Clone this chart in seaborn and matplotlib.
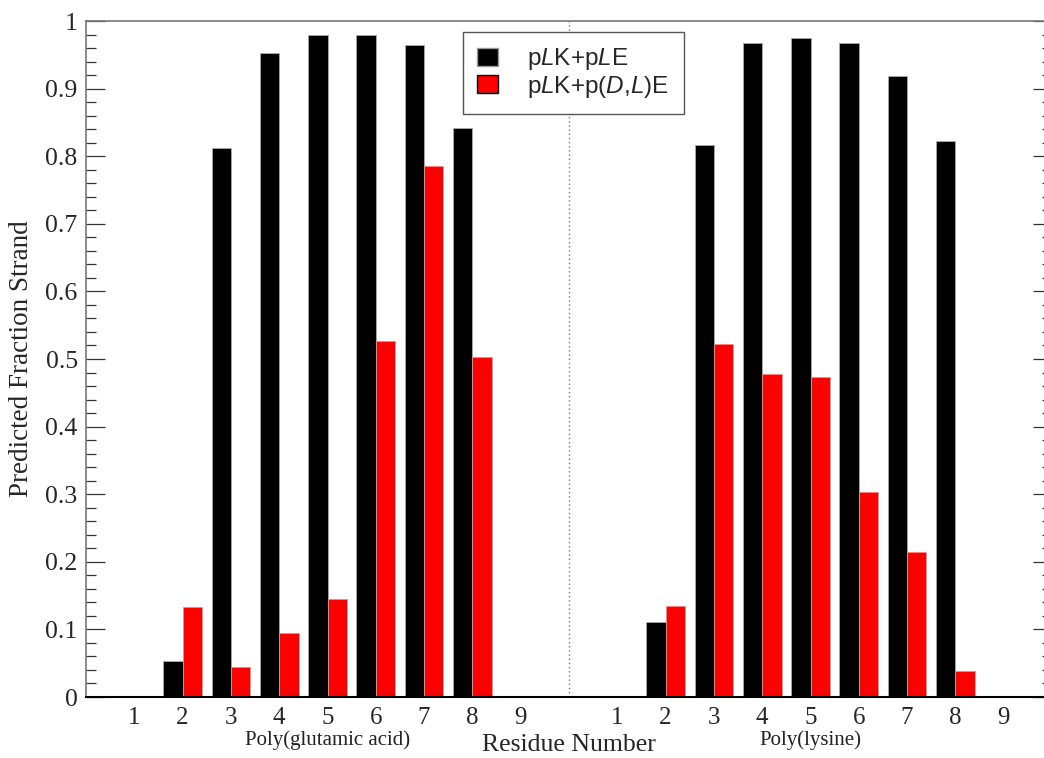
import numpy as np
import pandas as pd
import matplotlib
matplotlib.use("Agg")
import matplotlib.pyplot as plt
from matplotlib.ticker import MultipleLocator
import seaborn as sns

# residue numbers along each peptide
residues = [1, 2, 3, 4, 5, 6, 7, 8, 9]

# predicted fraction strand, poly(glutamic acid) part
glu_plk_ple = [0.0, 0.053, 0.812, 0.952, 0.980, 0.980, 0.964, 0.842, 0.0]
glu_plk_pdle = [0.0, 0.133, 0.044, 0.095, 0.145, 0.527, 0.786, 0.503, 0.0]

# predicted fraction strand, poly(lysine) part
lys_plk_ple = [0.0, 0.111, 0.816, 0.968, 0.975, 0.968, 0.919, 0.823, 0.0]
lys_plk_pdle = [0.0, 0.135, 0.522, 0.478, 0.473, 0.303, 0.214, 0.039, 0.0]

series_names = [r"p$\mathit{L}$K+p$\mathit{L}$E",
                r"p$\mathit{L}$K+p($\mathit{D}$,$\mathit{L}$)E"]
series_colors = ["#000000", "#ff0000"]
segment_names = ["Poly(glutamic acid)", "Poly(lysine)"]


def main():
    sns.set_style("white")
    plt.rcParams["font.family"] = ["Liberation Serif", "DejaVu Serif"]
    plt.rcParams["mathtext.fontset"] = "custom"
    plt.rcParams["mathtext.it"] = "Liberation Sans:italic"
    plt.rcParams["mathtext.rm"] = "Liberation Sans"

    # long table: glutamic residues at 1..9, lysine residues at 11..19
    rows = []
    for offset, (a, b) in zip([0, 10], [(glu_plk_ple, glu_plk_pdle),
                                       (lys_plk_ple, lys_plk_pdle)]):
        for i, r in enumerate(residues):
            rows.append({"pos": r + offset, "series": series_names[0], "value": a[i]})
            rows.append({"pos": r + offset, "series": series_names[1], "value": b[i]})
    df = pd.DataFrame(rows)

    fig = plt.figure(figsize=(10.44, 7.58), dpi=100)
    ax = fig.add_axes([86 / 1044, 61 / 758, 966 / 1044, 676 / 758])

    sns.barplot(data=df, x="pos", y="value", hue="series",
                hue_order=series_names, palette=series_colors, saturation=1,
                native_scale=True, dodge=True, width=0.8, errorbar=None,
                edgecolor="#aaaaaa", linewidth=0.6, ax=ax)

    ax.set_xlim(0, 20)
    ax.set_ylim(0, 1)

    # divider between the two peptides
    ax.axvline(10, color="#777777", linestyle=(0, (1, 2)), linewidth=1)

    ticks = [r for r in residues] + [r + 10 for r in residues]
    ax.set_xticks(ticks)
    ax.set_xticklabels([str(r) for r in residues] * 2)
    yt = np.round(np.arange(0, 1.01, 0.1), 1)
    ax.set_yticks(yt)
    ax.set_yticklabels(["0"] + [f"{v:.1f}" for v in yt[1:-1]] + ["1"])
    ax.yaxis.set_minor_locator(MultipleLocator(0.02))

    ax.tick_params(axis="x", length=0, labelsize=18, pad=7.5)
    ax.tick_params(axis="y", which="major", direction="in", length=13.5,
                   width=0.9, color="#333333", labelsize=18.5, pad=6,
                   left=True, right=True)
    ax.tick_params(axis="y", which="minor", direction="in", length=7,
                   width=0.9, color="#333333", left=True, right=True)

    for side in ["left", "top", "right"]:
        ax.spines[side].set_color("#777777")
        ax.spines[side].set_linewidth(1.2)
    ax.spines["bottom"].set_color("#000000")
    ax.spines["bottom"].set_linewidth(1.5)

    ax.set_xlabel("Residue Number", fontsize=18.5, va="baseline")
    ax.xaxis.set_label_coords(0.5, -0.0799)
    ax.set_ylabel("Predicted Fraction Strand", fontsize=19.5, labelpad=8)

    trans = matplotlib.transforms.blended_transform_factory(ax.transData, ax.transAxes)
    for x, name in zip([5, 15], segment_names):
        ax.text(x, -0.071, name, transform=trans, ha="center", va="baseline",
                fontsize=15, color="#222222")

    handles, labels = ax.get_legend_handles_labels()
    leg = ax.legend(handles, labels, loc="upper left",
                    bbox_to_anchor=(0.39, 0.984), borderaxespad=0,
                    prop={"family": "Liberation Sans", "size": 17.5},
                    handlelength=0.86, handleheight=0.75, handletextpad=1.2,
                    borderpad=0.6, labelspacing=0.05, fancybox=False,
                    framealpha=1, edgecolor="#555555")
    leg.get_frame().set_linewidth(1)
    for h, ec in zip(leg.legend_handles, ["#999999", "#000000"]):
        h.set_edgecolor(ec)
        h.set_linewidth(1)

    fig.savefig("out.png", dpi=100)
    plt.close(fig)


if __name__ == "__main__":
    main()
